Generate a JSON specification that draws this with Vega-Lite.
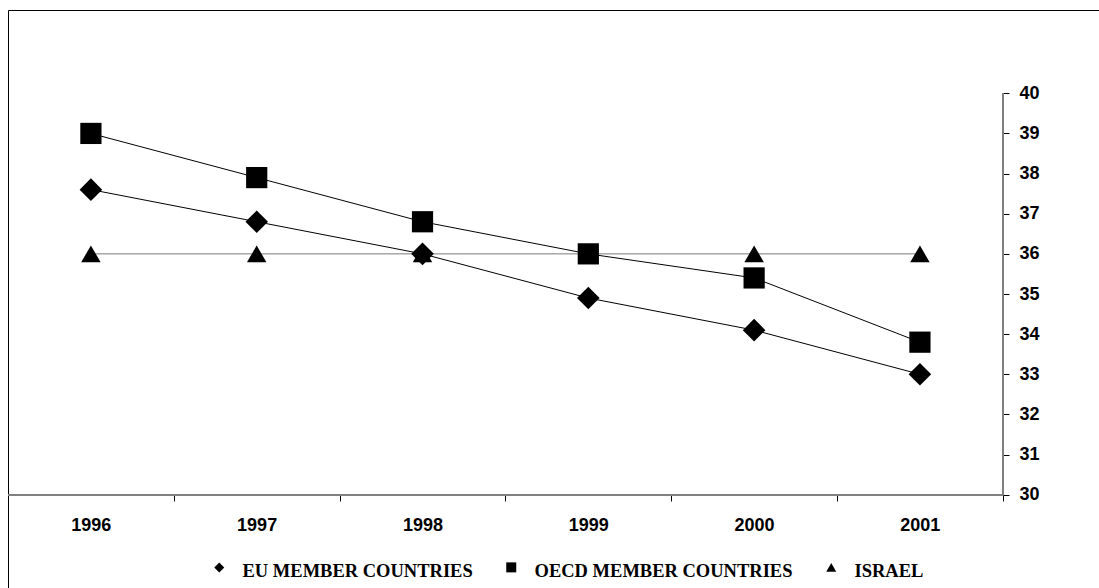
{
  "$schema": "https://vega.github.io/schema/vega-lite/v6.json",
  "width": 1091,
  "height": 578,
  "autosize": {"type": "none"},
  "padding": {"left": 8, "top": 10, "right": 0, "bottom": 0},
  "background": "white",
  "config": {"view": {"stroke": "black", "strokeWidth": 1}, "axis": {"grid": false}},
  "datasets": {
    "series": [
      {"year": 1996, "series": "EU MEMBER COUNTRIES", "value": 37.6},
      {"year": 1997, "series": "EU MEMBER COUNTRIES", "value": 36.8},
      {"year": 1998, "series": "EU MEMBER COUNTRIES", "value": 36.0},
      {"year": 1999, "series": "EU MEMBER COUNTRIES", "value": 34.9},
      {"year": 2000, "series": "EU MEMBER COUNTRIES", "value": 34.1},
      {"year": 2001, "series": "EU MEMBER COUNTRIES", "value": 33.0},
      {"year": 1996, "series": "OECD MEMBER COUNTRIES", "value": 39.0},
      {"year": 1997, "series": "OECD MEMBER COUNTRIES", "value": 37.9},
      {"year": 1998, "series": "OECD MEMBER COUNTRIES", "value": 36.8},
      {"year": 1999, "series": "OECD MEMBER COUNTRIES", "value": 36.0},
      {"year": 2000, "series": "OECD MEMBER COUNTRIES", "value": 35.4},
      {"year": 2001, "series": "OECD MEMBER COUNTRIES", "value": 33.8},
      {"year": 1996, "series": "ISRAEL", "value": 36.0},
      {"year": 1997, "series": "ISRAEL", "value": 36.0},
      {"year": 1998, "series": "ISRAEL", "value": 36.0},
      {"year": 1999, "series": "ISRAEL", "value": 36.0},
      {"year": 2000, "series": "ISRAEL", "value": 36.0},
      {"year": 2001, "series": "ISRAEL", "value": 36.0}
    ]
  },
  "data": {"name": "series"},
  "encoding": {
    "x": {
      "field": "year", "type": "quantitative",
      "scale": {"domain": [1995.5, 2002.08], "nice": false, "zero": false},
      "axis": {
        "orient": "bottom", "offset": -93,
        "values": [1995.5, 1996.5, 1997.5, 1998.5, 1999.5, 2000.5, 2001.5],
        "domain": false, "grid": false, "title": null,
        "tickSize": 6, "tickColor": "black", "tickWidth": 1,
        "labelExpr": "datum.value < 1996 ? '' : format(datum.value - 0.5, 'd')",
        "labelOffset": -83,
        "labelFont": "Liberation Sans", "labelFontWeight": "bold", "labelFontSize": 18, "labelColor": "black",
        "labelPadding": 15, "labelOverlap": false, "labelFlush": false, "labelBound": false
      }
    },
    "y": {
      "field": "value", "type": "quantitative",
      "scale": {"domain": [27.676, 42.075], "nice": false, "zero": false},
      "axis": {
        "orient": "right", "offset": -96,
        "values": [30, 31, 32, 33, 34, 35, 36, 37, 38, 39, 40],
        "domain": false, "grid": false, "title": null,
        "tickSize": 6, "tickColor": "black", "tickWidth": 1,
        "labelFont": "Liberation Sans", "labelFontWeight": "bold", "labelFontSize": 18, "labelColor": "black",
        "labelPadding": 10, "labelOverlap": false, "labelFlush": false, "labelBound": false
      }
    }
  },
  "layer": [
    {
      "mark": {"type": "rule", "color": "#808080", "strokeWidth": 1.5},
      "encoding": {
        "x": {"datum": 1995.5, "type": "quantitative"},
        "x2": {"datum": 2001.5},
        "y": {"datum": 30, "type": "quantitative"}
      }
    },
    {
      "mark": {"type": "rule", "color": "#808080", "strokeWidth": 1.5},
      "encoding": {
        "x": {"datum": 2001.5, "type": "quantitative"},
        "y": {"datum": 30, "type": "quantitative"},
        "y2": {"datum": 40}
      }
    },
    {
      "mark": {"type": "line", "strokeWidth": 1},
      "encoding": {
        "detail": {"field": "series", "type": "nominal"},
        "color": {"condition": {"test": "datum.series == 'ISRAEL'", "value": "#7a7a7a"}, "value": "#000000"}
      }
    },
    {
      "mark": {"type": "point", "filled": true, "opacity": 1, "color": "black"},
      "encoding": {
        "size": {
          "condition": [
            {"test": "datum.series == 'EU MEMBER COUNTRIES'", "value": 510},
            {"test": "datum.series == 'ISRAEL'", "value": 380}
          ],
          "value": 450
        },
        "shape": {
          "field": "series", "type": "nominal",
          "scale": {"domain": ["EU MEMBER COUNTRIES", "OECD MEMBER COUNTRIES", "ISRAEL"], "range": ["diamond", "square", "triangle-up"]},
          "legend": {
            "orient": "none", "legendX": 202, "legendY": 548, "direction": "horizontal", "title": null, "padding": 0,
            "symbolSize": 100, "symbolStrokeWidth": 1, "symbolFillColor": "black", "symbolStrokeColor": "black",
            "labelFont": "Liberation Serif", "labelFontWeight": "bold", "labelFontSize": 18.5, "labelColor": "black",
            "labelOffset": 14, "columnPadding": 29, "labelLimit": 500,
            "encoding": {
              "symbols": {
                "shape": {
                  "condition": [
                    {"test": "datum.value == 'EU MEMBER COUNTRIES'", "value": "M-2.8,-0.13H2.8V0.13H-2.8ZM-1,0L0,-1L1,0L0,1Z"},
                    {"test": "datum.value == 'OECD MEMBER COUNTRIES'", "value": "M-2.8,-0.13H2.8V0.13H-2.8ZM-1,-1H1V1H-1Z"}
                  ],
                  "value": "M-3.2,0.1H3.2V0.36H-3.2ZM0,-1L1.05,0.8H-1.05Z"
                },
                "fill": {"value": "black"}
              },
              "labels": {"dy": {"value": 4}}
            }
          }
        }
      }
    }
  ]
}
